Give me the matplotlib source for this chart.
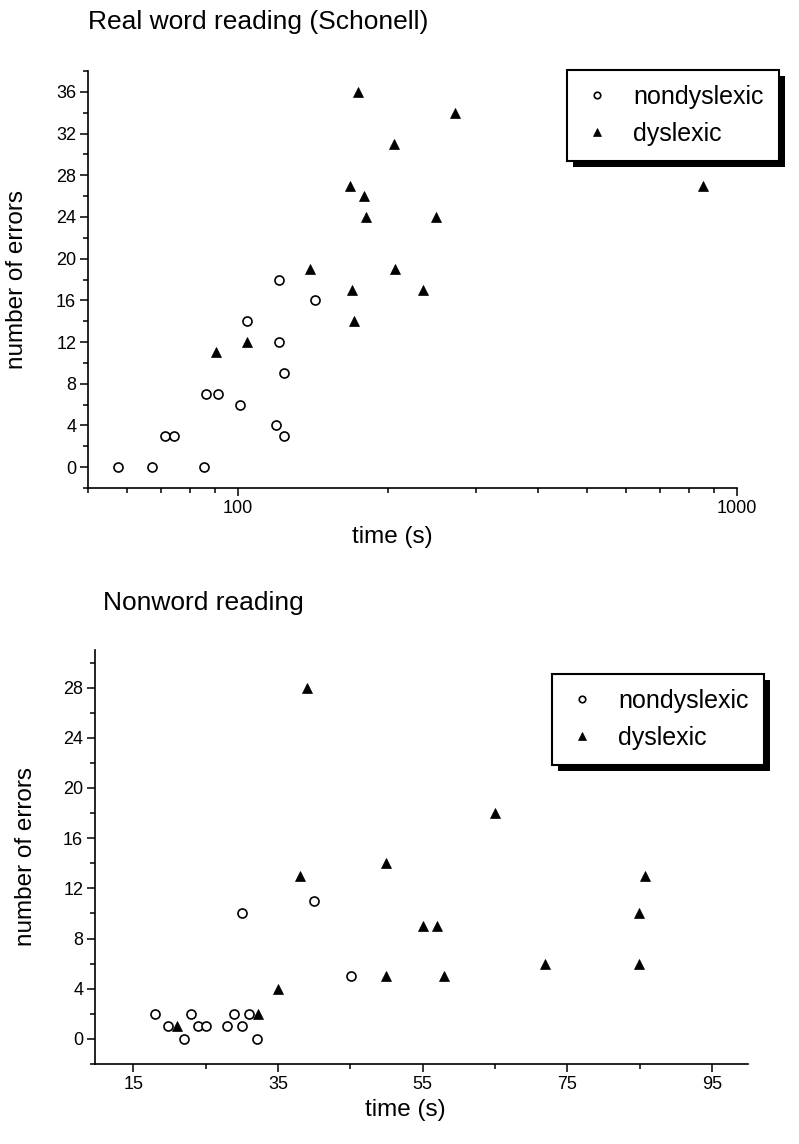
import numpy as np
import matplotlib
matplotlib.use("Agg")
import matplotlib.pyplot as plt
from matplotlib.ticker import MultipleLocator, LogLocator, NullFormatter, FixedLocator, FixedFormatter
from matplotlib.patches import Rectangle
from matplotlib.transforms import blended_transform_factory

plt.rcParams["font.family"] = ["Liberation Sans", "DejaVu Sans"]

# ── Real word reading (Schonell) ──────────────────────────────────────────────
nd_time_real = [57.3, 67.3, 85.3, 71.2, 74.3, 86.2, 91.1, 101, 104.3, 121, 121, 123.4, 119.3, 123.4, 142.3]
nd_err_real  = [0, 0, 0, 3, 3, 7, 7, 6, 14, 18, 12, 9, 4, 3, 16]
dy_time_real = [90.3, 104.4, 139.5, 169.2, 170.3, 167.2, 174, 178.9, 180, 205, 206.3, 234.2, 249.2, 272.6, 856.7]
dy_err_real  = [11, 12, 19, 17, 14, 27, 36, 26, 24, 31, 19, 17, 24, 34, 27]

# ── Nonword reading ───────────────────────────────────────────────────────────
nd_time_non = [18, 19.8, 22, 23, 24, 25, 27.9, 28.9, 30, 30, 31, 32.1, 40, 45.1]
nd_err_non  = [2, 1, 0, 2, 1, 1, 1, 2, 1, 10, 2, 0, 11, 5]
dy_time_non = [21, 32.2, 35, 38, 39, 50, 50, 55, 57, 58, 65, 71.9, 84.9, 84.9, 85.8]
dy_err_non  = [1, 2, 4, 13, 28, 14, 5, 9, 9, 5, 18, 6, 10, 6, 13]

W, H = 799, 1144
fig = plt.figure(figsize=(W / 100, H / 100), dpi=100)


def px_axes(l, t, r, b):
    return fig.add_axes([l / W, 1 - b / H, (r - l) / W, (b - t) / H])


def style(ax):
    for s in ("top", "right"):
        ax.spines[s].set_visible(False)
    for s in ("left", "bottom"):
        ax.spines[s].set_linewidth(1.2)
    ax.tick_params(which="major", length=5.5, width=1.1, labelsize=13, pad=3)
    ax.tick_params(which="minor", length=3.5, width=1.1)


def labels(ax, ylab_right_px, xlab_center_px, xlab_top_px):
    ax.set_xlabel("time (s)", fontsize=17.5)
    ax.set_ylabel("number of errors", fontsize=17.5)
    ax.yaxis.set_label_coords(ylab_right_px / W, 0.5,
                              transform=blended_transform_factory(fig.transFigure, ax.transAxes))
    ax.xaxis.set_label_coords(xlab_center_px / W, 1 - xlab_top_px / H,
                              transform=fig.transFigure)


def scatter(ax, xn, yn, xd, yd):
    ax.plot(xn, yn, "o", ms=6.5, mfc="white", mec="black", mew=1.2,
            label="nondyslexic", clip_on=False)
    ax.plot(xd, yd, "^", ms=7.4, mfc="black", mec="black", mew=0.5,
            label="dyslexic", clip_on=False)


def legend_box(ax, left, top):
    leg = ax.legend(loc="upper left", bbox_to_anchor=(left / W, 1 - top / H),
                    bbox_transform=fig.transFigure, fontsize=18, frameon=True,
                    fancybox=False, framealpha=1, edgecolor="black",
                    markerscale=0.72, handlelength=1.2, handletextpad=0.85,
                    labelspacing=0.5, borderpad=0.6, borderaxespad=0)
    leg.get_frame().set_linewidth(1.5)
    fig.canvas.draw()
    bb = leg.get_window_extent()
    off = 6
    shadow = Rectangle((bb.x0 + off, bb.y0 - off), bb.width, bb.height,
                       transform=None, facecolor="black", edgecolor="none",
                       zorder=4.9, clip_on=False)
    ax.add_artist(shadow)


# top panel
ax1 = px_axes(88, 71, 737, 488)
scatter(ax1, nd_time_real, nd_err_real, dy_time_real, dy_err_real)
ax1.set_xscale("log")
ax1.set_xlim(50, 1000)
ax1.set_ylim(-2, 38)
ax1.xaxis.set_major_locator(FixedLocator([100, 1000]))
ax1.xaxis.set_major_formatter(FixedFormatter(["100", "1000"]))
ax1.xaxis.set_minor_locator(LogLocator(base=10, subs=np.arange(2, 10)))
ax1.xaxis.set_minor_formatter(NullFormatter())
ax1.yaxis.set_major_locator(FixedLocator(np.arange(0, 37, 4)))
ax1.yaxis.set_minor_locator(MultipleLocator(2))
style(ax1)
labels(ax1, 28, 392, 526)
fig.text(88 / W, 1 - 22 / H, "Real word reading (Schonell)", fontsize=19,
         ha="left", va="center")
legend_box(ax1, 567, 70)

# bottom panel
ax2 = px_axes(95, 650, 748, 1064)
scatter(ax2, nd_time_non, nd_err_non, dy_time_non, dy_err_non)
ax2.set_xlim(9.7, 100)
ax2.set_ylim(-2, 31)
ax2.xaxis.set_major_locator(FixedLocator([15, 35, 55, 75, 95]))
ax2.xaxis.set_minor_locator(FixedLocator([25, 45, 65, 85]))
ax2.yaxis.set_major_locator(FixedLocator(np.arange(0, 29, 4)))
ax2.yaxis.set_minor_locator(MultipleLocator(2))
style(ax2)
labels(ax2, 37, 405, 1099)
fig.text(103 / W, 1 - 603 / H, "Nonword reading", fontsize=19,
         ha="left", va="center")
legend_box(ax2, 552, 674)

fig.savefig("out.png", dpi=100)
